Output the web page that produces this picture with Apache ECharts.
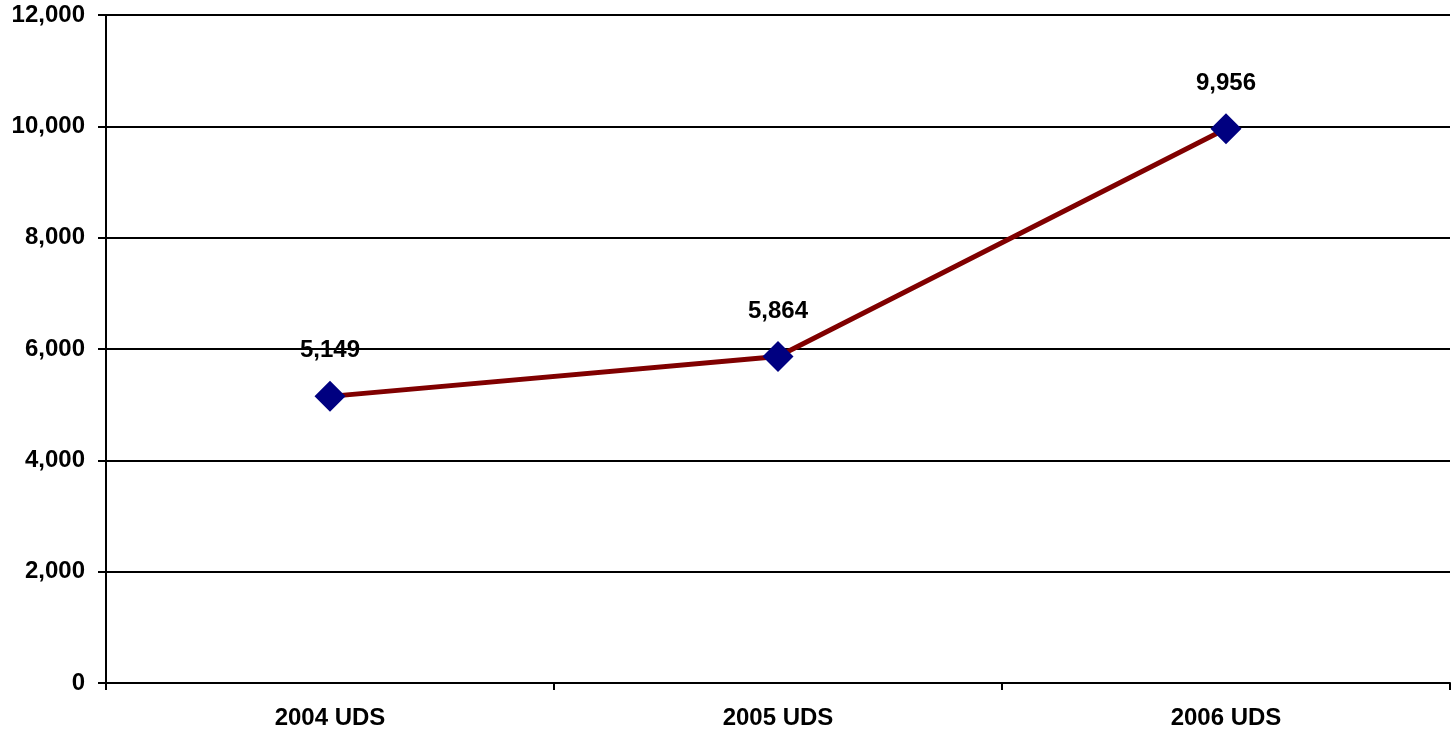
<!DOCTYPE html>
<html>
<head>
<meta charset="utf-8">
<script src="https://cdn.jsdelivr.net/npm/echarts@6/dist/echarts.min.js"></script>
<style>html,body{margin:0;padding:0;background:#fff;}#c{width:1454px;height:736px;}</style>
</head>
<body>
<div id="c"></div>
<script>
const categories = ['2004 UDS', '2005 UDS', '2006 UDS'];
const values = [5149, 5864, 9956];
const yTicks = [0, 2000, 4000, 6000, 8000, 10000, 12000];

const chart = echarts.init(document.getElementById('c'), null, {renderer: 'canvas'});
const fmt = v => v.toLocaleString('en-US');
chart.setOption({
  animation: false,
  backgroundColor: '#ffffff',
  grid: {left: 106, right: 4, top: 15, bottom: 53, containLabel: false},
  xAxis: {
    type: 'category',
    data: categories,
    boundaryGap: true,
    axisLine: {lineStyle: {color: '#000', width: 2}},
    axisTick: {show: true, length: 7, lineStyle: {color: '#000', width: 2}},
    axisLabel: {color: '#000', fontFamily: 'Liberation Sans, Arial', fontWeight: 'bold', fontSize: 24, margin: 23}
  },
  yAxis: {
    type: 'value',
    min: yTicks[0],
    max: yTicks[yTicks.length - 1],
    interval: 2000,
    axisLine: {show: true, lineStyle: {color: '#000', width: 2}},
    axisTick: {show: true, length: 8, lineStyle: {color: '#000', width: 2}},
    splitLine: {show: true, lineStyle: {color: '#000', width: 2}},
    axisLabel: {color: '#000', fontFamily: 'Liberation Sans, Arial', fontWeight: 'bold', fontSize: 24, margin: 21, formatter: fmt}
  },
  series: [{
    type: 'line',
    data: values,
    symbol: 'diamond',
    symbolSize: 31,
    lineStyle: {color: '#800000', width: 5},
    itemStyle: {color: '#000080'},
    label: {
      show: true,
      position: 'top',
      distance: 18,
      color: '#000',
      fontFamily: 'Liberation Sans, Arial',
      fontWeight: 'bold',
      fontSize: 24,
      formatter: p => fmt(p.value)
    }
  }]
});
</script>
</body>
</html>
